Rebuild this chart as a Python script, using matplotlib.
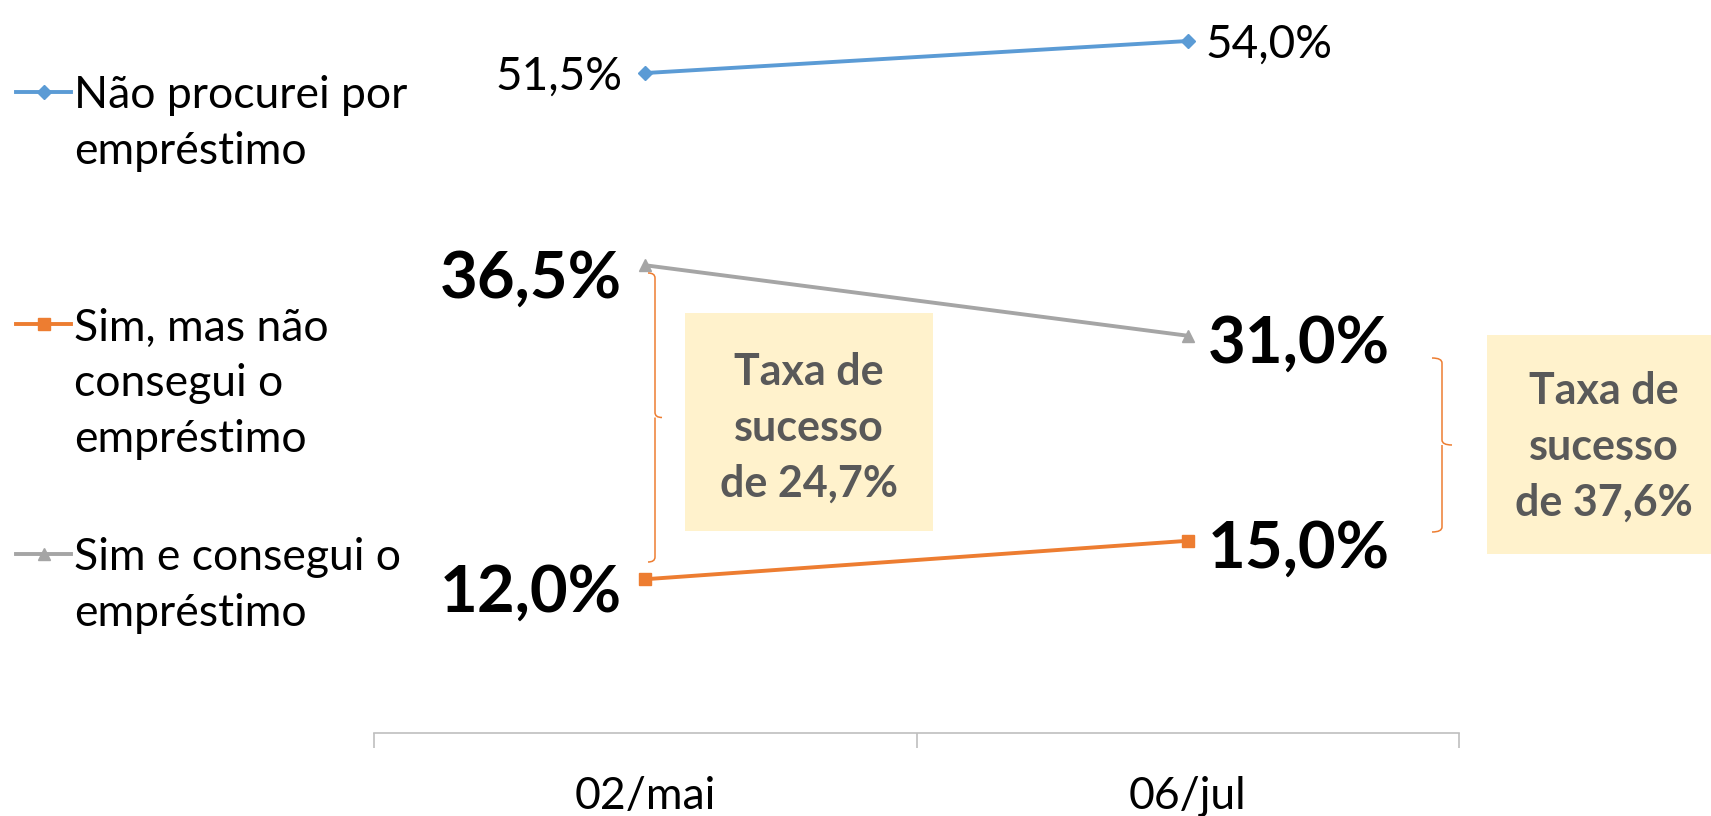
import matplotlib.pyplot as plt
from matplotlib.patches import Rectangle, PathPatch
from matplotlib.path import Path
from matplotlib.lines import Line2D

plt.rcParams['font.family'] = ['Lato', 'DejaVu Sans']

categories = ["02/mai", "06/jul"]
series_names = ["Não procurei por\nempréstimo",
                "Sim, mas não\nconsegui o\nempréstimo",
                "Sim e consegui o\nempréstimo"]
nao_procurei = [51.5, 54.0]
sim_nao_conseguiu = [12.0, 15.0]
sim_conseguiu = [36.5, 31.0]
taxa_sucesso = [24.7, 37.6]

colors = ["#5B9BD5", "#ED7D31", "#A5A5A5"]
markers = ["D", "s", "^"]
msizes = [7.5, 8.5, 8.5]

W, H = 1711, 816
fig = plt.figure(figsize=(W / 100, H / 100), dpi=100)
ax = fig.add_axes([374 / W, (H - 733) / H, 1085 / W, 733 / H])
ax.patch.set_visible(False)

x = range(len(categories))
all_series = [nao_procurei, sim_nao_conseguiu, sim_conseguiu]
for vals, c, m, ms in zip(all_series, colors, markers, msizes):
    ax.plot(x, vals, color=c, lw=2.8, marker=m, ms=ms, clip_on=False, zorder=3)

ax.set_xlim(-0.5, 1.5)
ax.set_ylim(0, 57.2)
for s in ["top", "left", "right"]:
    ax.spines[s].set_visible(False)
ax.spines["bottom"].set_color("#BFBFBF")
ax.spines["bottom"].set_linewidth(1.2)
ax.set_yticks([])
ax.set_xticks([-0.5, 0.5, 1.5])
ax.set_xticklabels([])
ax.tick_params(axis="x", which="major", length=10.8, width=1.2, color="#BFBFBF")
ax.set_xticks(list(x), minor=True)
ax.set_xticklabels(categories, minor=True, fontsize=32)
ax.tick_params(axis="x", which="minor", length=0, pad=31)


def label(xi, v, dx, dy, ha, bold):
    ax.annotate(f"{v:.1f}%".replace(".", ","), (xi, v), xytext=(dx, dy),
                textcoords="offset pixels", ha=ha, va="center_baseline",
                fontsize=47 if bold else 33,
                fontweight="bold" if bold else "normal", color="black")


label(0, nao_procurei[0], -23, 0, "right", False)
label(1, nao_procurei[1], 18, 0, "left", False)
label(0, sim_conseguiu[0], -23, -8, "right", True)
label(1, sim_conseguiu[1], 20, -3, "left", True)
label(0, sim_nao_conseguiu[0], -23, -8, "right", True)
label(1, sim_nao_conseguiu[1], 20, -3, "left", True)


def brace(x_px, top_px, bot_px, w=14, r=5, color="#ED7D31"):
    # "}" shaped brace in figure pixel coords (y measured from top)
    yt, yb = H - top_px, H - bot_px
    ym = (yt + yb) / 2
    xm = x_px + w / 2
    verts = [(x_px, yt), (xm, yt), (xm, yt - r),
             (xm, ym + r),
             (xm, ym), (x_px + w, ym),
             (xm, ym), (xm, ym - r),
             (xm, yb + r),
             (xm, yb), (x_px, yb)]
    codes = [Path.MOVETO, Path.CURVE3, Path.CURVE3,
             Path.LINETO,
             Path.CURVE3, Path.CURVE3,
             Path.MOVETO, Path.CURVE3,
             Path.LINETO,
             Path.CURVE3, Path.CURVE3]
    fig.add_artist(PathPatch(Path(verts, codes), transform=None,
                             fill=False, edgecolor=color, lw=1.1))


brace(648, 273, 562)
brace(1432, 358, 532, w=20)

boxes = [(685, 313, 248, 218, 809, 428), (1487, 335, 250, 219, 1604, 447)]
for (bx, by, bw, bh, tx, ty), t in zip(boxes, taxa_sucesso):
    fig.add_artist(Rectangle((bx / W, (H - by - bh) / H), bw / W, bh / H,
                             transform=fig.transFigure, facecolor="#FFF2CC",
                             edgecolor="none", zorder=1))
    fig.text(tx / W, 1 - ty / H, f"Taxa de\nsucesso\nde {t:.1f}%".replace(".", ","),
             ha="center", va="center", fontsize=31, fontweight="bold",
             color="#595959", linespacing=1.47, zorder=2)

# legend drawn by hand, one text line at a time
leg_y = [92, 324, 554]
line_gap = 56
for name, c, m, ms, ly in zip(series_names, colors, markers, msizes, leg_y):
    yf = 1 - ly / H
    fig.add_artist(Line2D([16 / W, 71 / W], [yf, yf], color=c, lw=2.8,
                          transform=fig.transFigure))
    fig.add_artist(Line2D([43.5 / W], [yf], color=c, marker=m, ms=ms,
                          transform=fig.transFigure))
    for k, part in enumerate(name.split("\n")):
        fig.text(74 / W, 1 - (ly + k * line_gap) / H, part, ha="left",
                 va="center_baseline", fontsize=32, color="black")

fig.savefig("out.png", dpi=100, facecolor="white")
